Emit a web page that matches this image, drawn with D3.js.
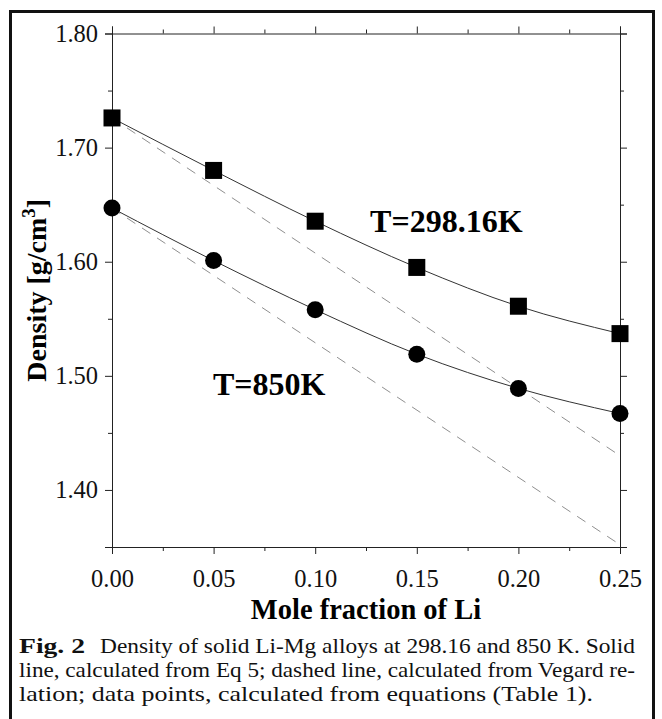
<!DOCTYPE html>
<html>
<head>
<meta charset="utf-8">
<script src="https://cdn.jsdelivr.net/npm/d3@7"></script>
<style>
  body { margin: 0; background: #fff; }
</style>
</head>
<body>
<svg id="chart" width="662" height="719"></svg>
<script>
// mole fraction of Li
const moleFraction = [0.00, 0.05, 0.10, 0.15, 0.20, 0.25];
// density [g/cm3], points from equations
const density298 = [1.726, 1.680, 1.6355, 1.595, 1.561, 1.537];
const density850 = [1.647, 1.601, 1.558, 1.519, 1.489, 1.467];
// Vegard relation (straight dashed lines), end points
const vegardX = [0.00, 0.25];
const vegard298 = [1.726, 1.430];
const vegard850 = [1.647, 1.352];

const xTicks = [0.00, 0.05, 0.10, 0.15, 0.20, 0.25];
const yTicks = [1.40, 1.50, 1.60, 1.70, 1.80];

const FONT = '"Liberation Serif", "Times New Roman", Times, serif';

const svg = d3.select("#chart").style("font-family", FONT);
const plot = { left: 112, top: 33.5, right: 620, bottom: 547 };

const x = d3.scaleLinear().domain([0, 0.25]).range([plot.left, plot.right]);
const y = d3.scaleLinear().domain([1.35, 1.80]).range([plot.bottom, plot.top]);

svg.append("rect").attr("width", 662).attr("height", 719).attr("fill", "#fff");

// outer frame, open at the bottom of the page
svg.append("rect")
    .attr("x", 10.5).attr("y", 11.5)
    .attr("width", 643).attr("height", 730)
    .attr("fill", "none").attr("stroke", "#111").attr("stroke-width", 3);

// minor ticks halfway between the major ones
function minor(step, lo, hi) {
    const out = [];
    for (let v = lo + step / 2; v < hi; v += step) out.push(+v.toFixed(4));
    return out;
}
const xMinor = minor(0.05, 0, 0.25);
const yMinor = minor(0.10, 1.30, 1.80).filter(v => v > 1.35);

function drawAxis(axisFn, scale, ticks, minorTicks, transform, labels) {
    const g = svg.append("g").attr("transform", transform);
    g.call(axisFn(scale).tickValues(ticks).tickSize(7)
        .tickFormat(labels ? d3.format(".2f") : ""));
    g.append("g").call(axisFn(scale).tickValues(minorTicks).tickSize(4).tickFormat(""))
        .select(".domain").remove();
    g.selectAll("path, line").attr("stroke", "#222").attr("stroke-width", 1);
    g.selectAll("text")
        .attr("fill", "#111")
        .style("font-family", FONT)
        .style("font-size", "24.5px");
    return g;
}

const gx = drawAxis(d3.axisBottom, x, xTicks, xMinor, `translate(0,${plot.bottom})`, true);
gx.selectAll(".tick text").attr("y", 0).attr("dy", 0)
    .attr("transform", "translate(0,40)");
drawAxis(d3.axisTop, x, xTicks, xMinor, `translate(0,${plot.top})`, false);
const gy = drawAxis(d3.axisLeft, y, yTicks, yMinor, `translate(${plot.left},0)`, true);
gy.selectAll(".tick text").attr("x", -14);
drawAxis(d3.axisRight, y, yTicks, yMinor, `translate(${plot.right},0)`, false);

// Vegard dashed lines
const straight = d3.line().x(d => x(d[0])).y(d => y(d[1]));
[vegard298, vegard850].forEach(vals => {
    svg.append("path")
        .datum(vegardX.map((v, i) => [v, vals[i]]))
        .attr("d", straight)
        .attr("fill", "none")
        .attr("stroke", "#8f8f8f")
        .attr("stroke-width", 1)
        .attr("stroke-dasharray", "10,8");
});

// Eq 5 solid curves
const smooth = d3.line().x(d => x(d[0])).y(d => y(d[1])).curve(d3.curveMonotoneX);
[density298, density850].forEach(vals => {
    svg.append("path")
        .datum(moleFraction.map((v, i) => [v, vals[i]]))
        .attr("d", smooth)
        .attr("fill", "none")
        .attr("stroke", "#333")
        .attr("stroke-width", 1);
});

// data points
const sq = 17;
svg.append("g").selectAll("rect")
    .data(moleFraction.map((v, i) => [v, density298[i]]))
    .join("rect")
    .attr("x", d => x(d[0]) - sq / 2)
    .attr("y", d => y(d[1]) - sq / 2)
    .attr("width", sq).attr("height", sq)
    .attr("fill", "#000");

svg.append("g").selectAll("circle")
    .data(moleFraction.map((v, i) => [v, density850[i]]))
    .join("circle")
    .attr("cx", d => x(d[0]))
    .attr("cy", d => y(d[1]))
    .attr("r", 8.5)
    .attr("fill", "#000");

// curve labels
svg.append("text")
    .attr("x", x(0.127)).attr("y", y(1.626))
    .style("font-size", "32px").style("font-weight", "bold")
    .text("T=298.16K");
svg.append("text")
    .attr("x", x(0.0497)).attr("y", y(1.4833))
    .style("font-size", "32px").style("font-weight", "bold")
    .text("T=850K");

// axis titles
svg.append("text")
    .attr("x", (plot.left + plot.right) / 2).attr("y", 619)
    .attr("text-anchor", "middle")
    .style("font-size", "28.5px").style("font-weight", "bold")
    .text("Mole fraction of Li");

const yt = svg.append("text")
    .attr("transform", `translate(46,${(plot.top + plot.bottom) / 2}) rotate(-90)`)
    .attr("text-anchor", "middle")
    .style("font-size", "28px").style("font-weight", "bold");
yt.append("tspan").text("Density [g/cm");
yt.append("tspan").attr("dy", -11).style("font-size", "19px").text("3");
yt.append("tspan").attr("dy", 11).text("]");

// caption, each piece stretched to the width of the printed line
const caption = [
    { text: "Fig. 2", bold: true, x: 19, line: 0, width: 66 },
    { text: "Density of solid Li-Mg alloys at 298.16 and 850 K. Solid", bold: false, x: 100, line: 0, width: 535 },
    { text: "line, calculated from Eq 5; dashed line, calculated from Vegard re-", bold: false, x: 19, line: 1, width: 616 },
    { text: "lation; data points, calculated from equations (Table 1).", bold: false, x: 19, line: 2, width: 574 }
];
svg.append("g").selectAll("text")
    .data(caption)
    .join("text")
    .attr("x", d => d.x)
    .attr("y", d => 653 + d.line * 24)
    .attr("textLength", d => d.width)
    .attr("lengthAdjust", "spacingAndGlyphs")
    .style("font-size", "21.5px")
    .style("font-weight", d => d.bold ? "bold" : "normal")
    .attr("fill", "#111")
    .text(d => d.text);
</script>
</body>
</html>
